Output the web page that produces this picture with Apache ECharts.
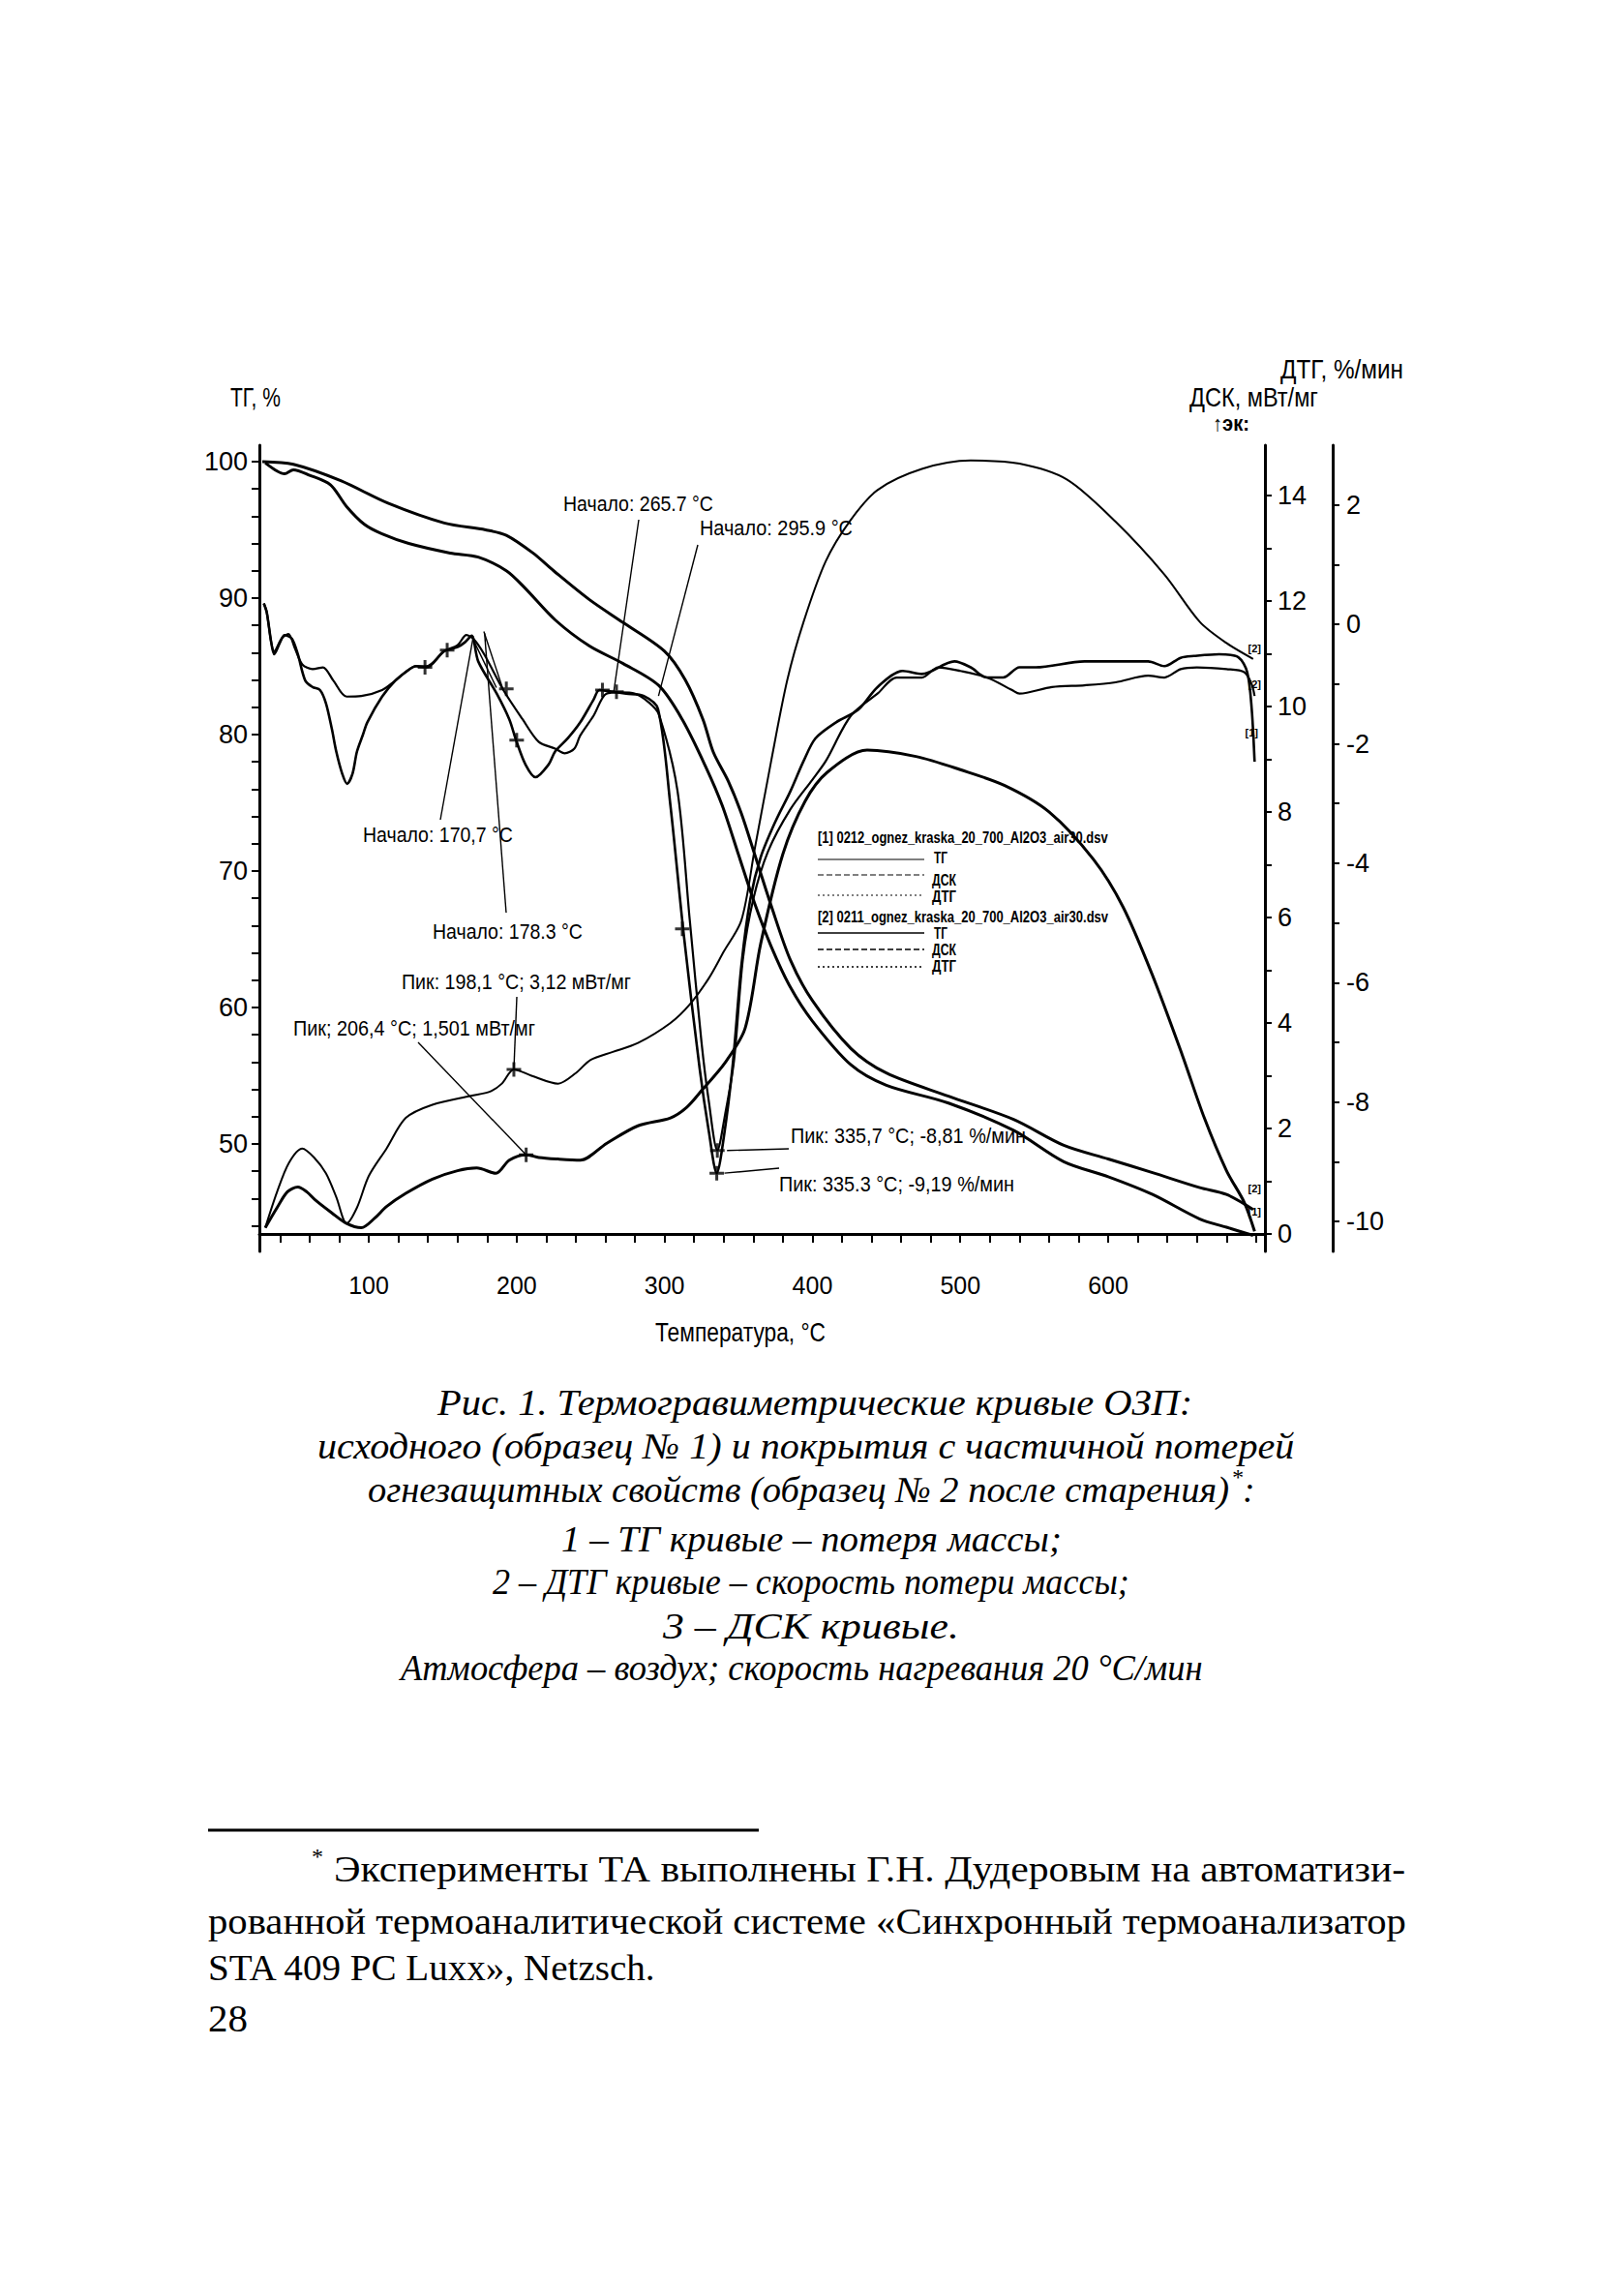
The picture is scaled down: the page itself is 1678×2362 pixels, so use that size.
<!DOCTYPE html>
<html lang="ru"><head><meta charset="utf-8"><title>Термогравиметрические кривые ОЗП</title>
<script src="https://cdn.jsdelivr.net/npm/echarts@6.0.0/dist/echarts.min.js"></script>
<style>html,body{margin:0;padding:0;background:#fff}#c{width:1678px;height:2362px}</style>
</head><body><div id="c"></div>
<script>
// ---------------- DATA ----------------
const xTickValues = [40,60,80,100,120,140,160,180,200,220,240,260,280,300,320,340,360,380,400,420,440,460,480,500,520,540,560,580,600,620,640,660,680,700];
const xLabelValues = [100,200,300,400,500,600];
const tgTickValues = [44,46,48,50,52,54,56,58,60,62,64,66,68,70,72,74,76,78,80,82,84,86,88,90,92,94,96,98,100];
const tgLabelValues = [50,60,70,80,90,100];
const dscTickValues = [0,1,2,3,4,5,6,7,8,9,10,11,12,13,14];
const dscLabelValues = [0,2,4,6,8,10,12,14];
const dtgTickValues = [-10,-9,-8,-7,-6,-5,-4,-3,-2,-1,0,1,2];
const dtgLabelValues = [-10,-8,-6,-4,-2,0,2];

// TG, %  [temperature °C, value]
const tg1 = [[30,99.9],[38,99.3],[43,99.1],[49,99.4],[60,99.0],[74,98.3],[85,96.7],[97,95.4],[109,94.7],[127,94.0],[155,93.3],[174,93.0],[193,92.0],[205,90.8],[226,88.4],[249,86.5],[272,85.2],[296,83.6],[312,81.1],[328,77.6],[339,74.8],[350,71.2],[361,67.6],[372,64.5],[385,61.5],[400,59.0],[426,55.8],[450,54.3],[492,53.0],[536,51.0],[570,48.7],[600,47.6],[630,46.3],[662,44.5],[680,43.9],[698,43.3]];
const tg2 = [[28,100],[49,99.8],[81,98.6],[113,96.95],[151,95.5],[179,95.0],[193,94.6],[211,93.3],[225,92.0],[249,89.9],[272,88.2],[300,86.1],[314,84.0],[326,81.1],[333,78.7],[343,76.6],[352,74.2],[361,71.2],[372,67.5],[385,63.5],[400,60.5],[426,57.0],[450,55.2],[492,53.5],[536,51.8],[570,49.9],[600,48.9],[630,47.9],[662,46.8],[680,46.3],[698,45.2]];

// DSC, mW/mg
const dsc1 = [[30,0.12],[38,0.5],[45,0.8],[52,0.89],[58,0.8],[64,0.64],[75,0.4],[85,0.2],[95,0.12],[104,0.3],[112,0.52],[125,0.77],[143,1.04],[160,1.2],[173,1.25],[186,1.15],[195,1.4],[206.4,1.501],[215,1.45],[228,1.42],[243,1.4],[261,1.72],[282,2.05],[304,2.2],[315,2.4],[326,2.75],[341,3.25],[354.5,3.9],[365,5.5],[380,7.2],[395,8.2],[410,8.75],[437,9.17],[470,9.05],[500,8.8],[530,8.5],[560,8.0],[590,7.1],[610,6.2],[630,4.9],[650,3.4],[665,2.2],[680,1.2],[692,0.6],[699,0.05]];
const dsc2 = [[30,0.12],[38,0.8],[46,1.35],[55,1.62],[63,1.45],[71,1.15],[78,0.7],[85,0.2],[92,0.5],[100,1.1],[112,1.62],[125,2.2],[143,2.45],[169,2.62],[182,2.7],[190,2.85],[198.1,3.12],[210,3.0],[228,2.85],[240,3.05],[250,3.3],[265,3.45],[282,3.62],[304,4.0],[317,4.35],[330,4.85],[340,5.35],[352,5.95],[361,7.3],[372,8.95],[383,10.5],[394,11.6],[409,12.75],[425,13.5],[444,14.1],[474,14.5],[507,14.66],[540,14.6],[572,14.3],[605,13.5],[638,12.5],[662,11.6],[680,11.2],[698,10.9]];

// DTG, %/min
const dtg1 = [[29,0.35],[31,0.2],[34,-0.3],[36,-0.5],[40,-0.3],[43,-0.18],[48,-0.24],[52,-0.5],[57,-0.94],[62,-1.05],[67,-1.1],[71,-1.32],[75,-1.75],[78,-2.13],[82,-2.5],[85.3,-2.67],[89,-2.5],[92,-2.13],[96,-1.85],[99,-1.64],[109,-1.21],[118,-0.94],[125,-0.8],[132,-0.7],[139,-0.72],[151,-0.45],[160,-0.38],[165,-0.3],[169.5,-0.19],[174,-0.62],[186.5,-1.16],[195,-1.59],[199.6,-1.94],[206,-2.35],[212.7,-2.56],[221.5,-2.35],[226,-2.13],[234.5,-1.91],[243,-1.64],[252,-1.26],[256,-1.1],[265,-1.13],[274,-1.16],[286,-1.2],[295.6,-1.42],[304,-3.04],[313,-5.2],[323.8,-7.45],[330,-8.5],[335.3,-9.19],[340,-8.6],[346,-7.4],[352,-5.7],[358,-4.6],[365,-3.9],[375,-3.3],[385,-2.8],[394,-2.29],[402,-1.91],[416,-1.64],[431,-1.43],[444,-1.05],[461,-0.78],[474,-0.83],[496,-0.62],[507,-0.72],[518,-0.89],[529,-0.89],[540,-0.72],[551,-0.72],[584,-0.62],[605,-0.62],[627,-0.62],[638,-0.7],[649,-0.56],[658,-0.53],[675,-0.5],[688,-0.55],[694,-0.8],[697,-1.4],[699,-2.3]];
const dtg2 = [[29,0.35],[31,0.2],[34,-0.3],[36,-0.45],[41,-0.24],[45.6,-0.16],[50,-0.4],[55,-0.67],[62,-0.75],[69,-0.72],[76,-0.94],[85,-1.21],[95,-1.2],[109,-1.1],[118,-0.94],[132,-0.7],[139,-0.7],[151,-0.45],[160,-0.35],[166,-0.18],[171,-0.25],[178,-0.5],[191,-1.1],[204,-1.59],[215,-1.97],[226,-2.08],[232.5,-2.16],[239,-2.08],[243,-1.86],[252,-1.53],[260.7,-1.16],[270,-1.14],[280,-1.16],[289,-1.3],[296,-1.5],[308.7,-2.78],[317,-4.94],[325,-7.0],[330,-8.0],[335.7,-8.81],[341,-8.2],[347,-7.3],[353,-5.6],[360,-4.6],[370,-3.8],[385,-3.1],[400,-2.6],[409,-2.29],[426,-1.53],[444,-1.16],[457,-0.89],[474,-0.89],[485,-0.72],[500,-0.78],[518,-0.89],[535,-1.1],[540,-1.16],[562,-1.05],[584,-1.02],[605,-0.97],[627,-0.86],[638,-0.89],[649,-0.75],[660,-0.72],[680,-0.75],[692,-0.8],[697,-1.0],[699,-1.2]];

// "+" markers
const dtgMarks = [[138,-0.72],[153,-0.43],[193,-1.08],[200,-1.94],[258,-1.1],[267.5,-1.13],[312,-5.1],[335.3,-9.19],[335.7,-8.81]];
const dscMarks = [[198.1,3.12],[206.4,1.501]];

// ---------------- LAYOUT ----------------
const SANS = '"Liberation Sans Narrow","Liberation Sans",Arial,sans-serif';
const SERIF = '"Liberation Serif","Times New Roman",serif';
const mctx = document.createElement('canvas').getContext('2d');
function natW(text, font){ mctx.font = font; return mctx.measureText(text).width; }
function fitText(text, left, cy, width, size, family, fstyle, weight){
  fstyle = fstyle || 'normal'; weight = weight || 'normal';
  const w = natW(text, fstyle + ' ' + weight + ' ' + size + 'px ' + family) || width;
  return {type:'text', x:left, y:cy, scaleX: width / w, silent:true, z:20,
    style:{text:text, fontSize:size, fontFamily:family, fontStyle:fstyle, fontWeight:weight, fill:'#000',
      textAlign:'left', textVerticalAlign:'middle', align:'left', verticalAlign:'middle'}};
}
function plainText(text, x, cy, size, family, align, fstyle, weight){
  return {type:'text', x:x, y:cy, silent:true, z:20,
    style:{text:text, fontSize:size, fontFamily:family, fontStyle:fstyle||'normal', fontWeight:weight||'normal', fill:'#000',
      textAlign:align||'left', textVerticalAlign:'middle', align:align||'left', verticalAlign:'middle'}};
}

const chart = echarts.init(document.getElementById('c'), null, {renderer:'svg', width:1678, height:2362});
const AX = {color:'#000', width:3};
const lbl = (extra) => Object.assign({color:'#000', fontFamily:SANS, fontSize:27}, extra);
const lineSeries = (name, data, yi, w) => ({name, type:'line', data, yAxisIndex:yi, smooth:0.3, symbol:'none',
  lineStyle:{color:'#000', width:w}, silent:true, z:3});
const plus = 'path://M4,0h2v4h4v2h-4v4h-2v-4h-4v-2h4z';

chart.setOption({
  animation:false,
  backgroundColor:'#fff',
  grid:{left:268, top:460, width:1039, height:833, containLabel:false},
  xAxis:{type:'value', min:26, max:706,
    axisLine:{lineStyle:AX}, splitLine:{show:false},
    axisTick:{customValues:xTickValues, length:9, lineStyle:{color:'#000', width:2}},
    axisLabel:lbl({customValues:xLabelValues, margin:22, fontSize:25})},
  yAxis:[
    {type:'value', position:'left', min:42.13, max:101.2,
      axisLine:{show:true, lineStyle:AX}, splitLine:{show:false},
      axisTick:{show:true, customValues:tgTickValues, length:8, lineStyle:{color:'#000', width:2}},
      axisLabel:lbl({customValues:tgLabelValues, margin:12})},
    {type:'value', position:'right', offset:0, min:-0.33, max:14.95,
      axisLine:{show:true, lineStyle:AX}, splitLine:{show:false},
      axisTick:{show:true, customValues:dscTickValues, length:7, lineStyle:{color:'#000', width:2}},
      axisLabel:lbl({customValues:dscLabelValues, margin:13})},
    {type:'value', position:'right', offset:70, min:-10.5, max:3.0,
      axisLine:{show:true, lineStyle:AX}, splitLine:{show:false},
      axisTick:{show:true, customValues:dtgTickValues, length:7, lineStyle:{color:'#000', width:2}},
      axisLabel:lbl({customValues:dtgLabelValues, margin:14})}
  ],
  series:[
    lineSeries('ТГ [1]', tg1, 0, 3),
    lineSeries('ТГ [2]', tg2, 0, 3),
    lineSeries('ДСК [1]', dsc1, 1, 3),
    lineSeries('ДСК [2]', dsc2, 1, 2),
    lineSeries('ДТГ [1]', dtg1, 2, 2.6),
    lineSeries('ДТГ [2]', dtg2, 2, 2.2),
    {name:'ДТГ маркеры', type:'scatter', yAxisIndex:2, data:dtgMarks, symbol:plus, symbolSize:15,
      itemStyle:{color:'#000'}, silent:true, z:5},
    {name:'ДСК маркеры', type:'scatter', yAxisIndex:1, data:dscMarks, symbol:plus, symbolSize:15,
      itemStyle:{color:'#000'}, silent:true, z:5}
  ]
});

// ---------------- ANNOTATIONS ----------------
const ANNOT_LABELS = [
  ['Начало: 265.7 °C', 582, 520, 155],
  ['Начало: 295.9 °C', 723, 545, 158],
  ['Начало: 170,7 °C', 375, 862, 155],
  ['Начало: 178.3 °C', 447, 962, 155],
  ['Пик: 198,1 °C; 3,12 мВт/мг', 415, 1014, 237],
  ['Пик; 206,4 °C; 1,501 мВт/мг', 303, 1062, 250],
  ['Пик: 335,7 °C; -8,81 %/мин', 817, 1173, 243],
  ['Пик: 335.3 °C; -9,19 %/мин', 805, 1223, 243]
];
const LEADERS = [
  {from:[660,537], series:4, to:[265.7,-1.12]},
  {from:[721,563], series:4, to:[295.9,-1.2]},
  {from:[455,847], series:4, to:[170.7,-0.2]},
  {from:[523,943], series:4, to:[178.3,-0.15]},
  {from:[534,1030], series:3, to:[198.1,3.12]},
  {from:[432,1077], series:2, to:[206.4,1.501]},
  {from:[815,1187], series:4, to:[335.7,-8.81], gap:10},
  {from:[805,1207], series:4, to:[335.3,-9.19], gap:8}
];
const TANGENTS = [
  {series:4, a:[169.3,-0.19], b:[186.3,-1.06]},
  {series:4, a:[177.8,-0.12], b:[190.9,-1.1]}
];

const gfx = [];
gfx.push(fitText('ТГ, %', 238, 410, 52, 28, SANS));
gfx.push(fitText('ДТГ, %/мин', 1323, 381, 127, 28, SANS));
gfx.push(fitText('ДСК, мВт/мг', 1229, 410, 133, 28, SANS));
gfx.push(fitText('↑эк:', 1253, 437, 38, 22, SANS, 'normal', 'bold'));
gfx.push(fitText('Температура, °C', 677, 1376, 176, 27, SANS));

ANNOT_LABELS.forEach(a => gfx.push(fitText(a[0], a[1], a[2], a[3], 22, SANS)));
LEADERS.forEach(l => {
  const p = chart.convertToPixel({seriesIndex:l.series}, l.to);
  let x2 = p[0], y2 = p[1];
  if (l.gap) { x2 += l.gap; }
  gfx.push({type:'line', silent:true, z:19, shape:{x1:l.from[0], y1:l.from[1], x2:x2, y2:y2}, style:{stroke:'#000', lineWidth:1.4}});
});
TANGENTS.forEach(t => {
  const a = chart.convertToPixel({seriesIndex:t.series}, t.a);
  const b = chart.convertToPixel({seriesIndex:t.series}, t.b);
  gfx.push({type:'line', silent:true, z:19, shape:{x1:a[0], y1:a[1], x2:b[0], y2:b[1]}, style:{stroke:'#000', lineWidth:1.4}});
});

// legend block
gfx.push(fitText('[1] 0212_ognez_kraska_20_700_Al2O3_air30.dsv', 845, 866, 300, 16, SANS, 'normal', 'bold'));
gfx.push(fitText('[2] 0211_ognez_kraska_20_700_Al2O3_air30.dsv', 845, 948, 300, 16, SANS, 'normal', 'bold'));
[['ТГ',965,886,14],['ДСК',963,909,25],['ДТГ',963,926,25],['ТГ',965,964,14],['ДСК',963,981,25],['ДТГ',963,998,25]]
  .forEach(t => gfx.push(fitText(t[0], t[1], t[2], t[3], 17, SANS, 'normal', 'bold')));
[[888,null,1],[904,[6,3],1],[925,[2,3],1],[964,null,1.6],[981,[6,3],1.4],[999,[2,3],1.4]].forEach(s => {
  gfx.push({type:'line', silent:true, z:19, shape:{x1:845, y1:s[0], x2:955, y2:s[0]}, style:{stroke:'#000', lineWidth:s[2], lineDash:s[1]||null}});
});
[['[2]',1303,670],['[2]',1303,707],['[1]',1300,757],['[2]',1303,1228],['[1]',1303,1252]]
  .forEach(t => gfx.push(plainText(t[0], t[1], t[2], 11, SANS, 'right', 'normal', 'bold')));

// caption (italic)
const CAPTION = [
  ['Рис. 1. Термогравиметрические кривые ОЗП:', 452, 1449, 780],
  ['исходного (образец № 1) и покрытия с частичной потерей', 328, 1494, 1010],
  ['огнезащитных свойств (образец № 2 после старения)', 380, 1539, 890],
  ['1 – ТГ кривые – потеря массы;', 580, 1590, 517],
  ['2 – ДТГ кривые – скорость потери массы;', 509, 1634, 658],
  ['3 – ДСК кривые.', 685, 1680, 306],
  ['Атмосфера – воздух; скорость нагревания 20 °C/мин', 414, 1723, 829]
];
CAPTION.forEach(c => gfx.push(fitText(c[0], c[1], c[2], c[3], 38, SERIF, 'italic')));
gfx.push(plainText('*', 1272, 1526, 24, SERIF, 'left', 'italic'));
gfx.push(plainText(':', 1284, 1539, 38, SERIF, 'left', 'italic'));

// footnote
gfx.push({type:'line', silent:true, shape:{x1:215, y1:1891, x2:784, y2:1891}, style:{stroke:'#000', lineWidth:3}});
gfx.push(plainText('*', 322, 1918, 24, SERIF));
gfx.push(fitText('Эксперименты ТА выполнены Г.Н. Дудеровым на автоматизи-', 345, 1931, 1108, 38, SERIF));
gfx.push(fitText('рованной термоаналитической системе «Синхронный термоанализатор', 215, 1985, 1238, 38, SERIF));
gfx.push(fitText('STA 409 PC Luxx», Netzsch.', 215, 2033, 464, 38, SERIF));
gfx.push(fitText('28', 215, 2086, 41, 40, SERIF));

chart.setOption({graphic:{elements:gfx}});
</script></body></html>
